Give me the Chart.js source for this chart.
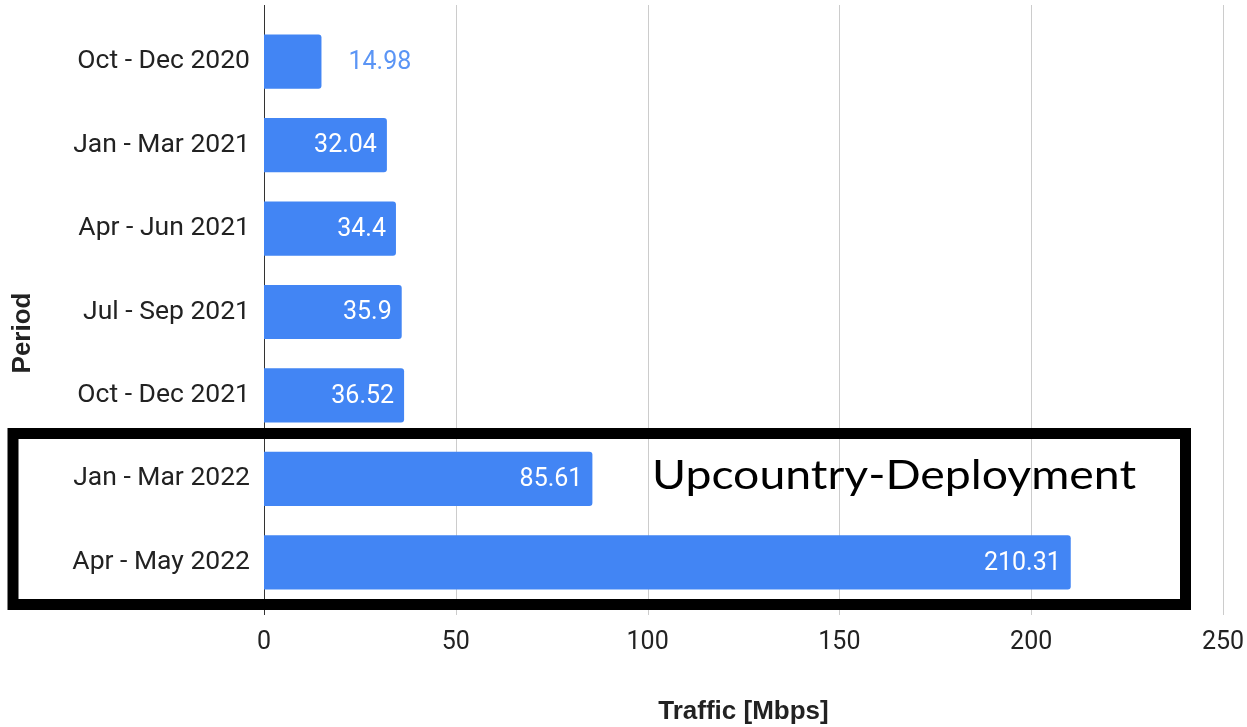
<!DOCTYPE html>
<html>
<head>
<meta charset="utf-8">
<script src="https://cdn.jsdelivr.net/npm/chart.js@4/dist/chart.umd.min.js"></script>
<style>
  html, body { margin: 0; padding: 0; background: #fff; }
  #wrap { width: 1247px; height: 727px; position: relative; }
</style>
</head>
<body>
<div id="wrap"><canvas id="c" width="1247" height="727"></canvas></div>
<script>
const periods = ['Oct - Dec 2020', 'Jan - Mar 2021', 'Apr - Jun 2021', 'Jul - Sep 2021', 'Oct - Dec 2021', 'Jan - Mar 2022', 'Apr - May 2022'];
const traffic = [14.98, 32.04, 34.4, 35.9, 36.52, 85.61, 210.31];
const xTicks = [0, 50, 100, 150, 200, 250];
const valueLabels = ['14.98', '32.04', '34.4', '35.9', '36.52', '85.61', '210.31'];
const boxLabel = 'Upcountry-Deployment';
const xTitle = 'Traffic [Mbps]';
const yTitle = 'Period';

const BAR_COLOR = '#4285F4';

const gridPlugin = {
  id: 'gridExt',
  beforeDatasetsDraw(chart) {
    const ctx = chart.ctx;
    const xs = chart.scales.x;
    ctx.save();
    xTicks.forEach(v => {
      const px = Math.round(xs.getPixelForValue(v)) + 0.5;
      ctx.beginPath();
      ctx.strokeStyle = v === 0 ? '#333333' : '#cccccc';
      ctx.lineWidth = 1;
      ctx.moveTo(px, 5);
      ctx.lineTo(px, 615);
      ctx.stroke();
    });
    ctx.restore();
  }
};

const labelPlugin = {
  id: 'valueLabels',
  afterDatasetsDraw(chart) {
    const ctx = chart.ctx;
    const meta = chart.getDatasetMeta(0);
    ctx.save();
    ctx.font = '25px Roboto';
    ctx.textBaseline = 'middle';
    meta.data.forEach((bar, i) => {
      const txt = valueLabels[i];
      const w = ctx.measureText(txt).width;
      const barW = bar.x - bar.base;
      if (barW > w + 24) {
        ctx.fillStyle = '#ffffff';
        ctx.textAlign = 'right';
        ctx.fillText(txt, bar.x - 10, bar.y + 1);
      } else {
        ctx.fillStyle = '#5b95f5';
        ctx.textAlign = 'left';
        ctx.fillText(txt, bar.x + 27, bar.y + 1);
      }
    });
    // y axis title
    ctx.save();
    ctx.translate(23, 333);
    ctx.rotate(-Math.PI / 2);
    ctx.fillStyle = '#222222';
    ctx.font = 'bold 26px "Liberation Sans"';
    ctx.textAlign = 'center';
    ctx.textBaseline = 'middle';
    ctx.fillText(yTitle, 0, 0);
    ctx.restore();
    ctx.restore();
  }
};

const boxPlugin = {
  id: 'highlightBox',
  afterDraw(chart) {
    const ctx = chart.ctx;
    ctx.save();
    ctx.strokeStyle = '#000000';
    ctx.lineWidth = 11;
    ctx.strokeRect(13, 433.5, 1185.5 - 13, 604.5 - 433.5);
    ctx.fillStyle = '#000000';
    ctx.font = '40px Lato';
    ctx.textAlign = 'left';
    ctx.textBaseline = 'alphabetic';
    const w = ctx.measureText(boxLabel).width;
    ctx.translate(652, 489);
    ctx.scale(484 / w, 1);
    ctx.fillText(boxLabel, 0, 0);
    ctx.restore();
  }
};

new Chart(document.getElementById('c'), {
  type: 'bar',
  data: {
    labels: periods,
    datasets: [{
      data: traffic,
      backgroundColor: BAR_COLOR,
      borderWidth: 0,
      borderRadius: 3,
      barPercentage: 0.65,
      categoryPercentage: 1.0
    }]
  },
  options: {
    indexAxis: 'y',
    responsive: false,
    animation: false,
    events: [],
    layout: { padding: { top: 20, right: 24, bottom: 0, left: 0 } },
    plugins: { legend: { display: false }, tooltip: { enabled: false } },
    scales: {
      x: {
        type: 'linear',
        min: 0,
        max: 250,
        afterBuildTicks(scale) { scale.ticks = xTicks.map(v => ({ value: v })); },
        afterFit(scale) { scale.height = 123; scale.paddingLeft = 0; scale.paddingRight = 0; },
        grid: { display: false, drawTicks: false },
        border: { display: false },
        ticks: { color: '#222222', font: { family: 'Roboto', size: 25 }, padding: 24, maxRotation: 0 },
        title: { display: true, text: xTitle, color: '#222222', font: { family: 'Liberation Sans', size: 26, weight: 'bold' }, padding: { top: 0, bottom: 0 } }
      },
      y: {
        type: 'category',
        afterFit(scale) { scale.width = 264; scale.paddingTop = 0; scale.paddingBottom = 0; },
        grid: { display: false, drawTicks: false },
        border: { display: false },
        ticks: { color: '#222222', font: { family: 'Roboto', size: 26.5 }, padding: 14 },
        title: { display: false, text: yTitle }
      }
    }
  },
  plugins: [gridPlugin, labelPlugin, boxPlugin]
});
</script>
</body>
</html>
